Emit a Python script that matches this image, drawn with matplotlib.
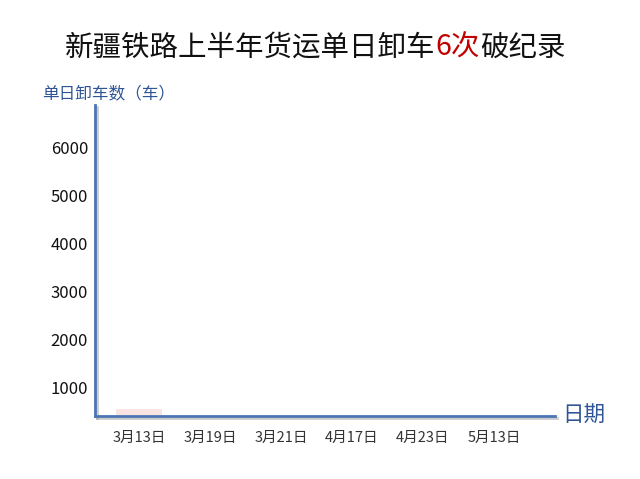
import matplotlib
matplotlib.use("Agg")
from matplotlib import pyplot as plt
import matplotlib.patheffects as pe

plt.rcParams['font.family'] = ['Noto Sans CJK SC', 'DejaVu Sans']

# 数据（动画帧：只有第一根柱子刚开始出现）
dates = ["3月13日", "3月19日", "3月21日", "4月17日", "4月23日", "5月13日"]
unload = [550, 0, 0, 0, 0, 0]
yticks = [1000, 2000, 3000, 4000, 5000, 6000]

title_parts = ["新疆铁路上半年货运单日卸车", "6次", "破纪录"]
title_colors = ["#111111", "#c00000", "#111111"]

axis_blue = "#4a76b4"
text_blue = "#2f5597"

fig = plt.figure(figsize=(6.4, 4.79), dpi=100)
ax = fig.add_axes([95/640, 63/479, 460/640, 311/479])

x = list(range(len(dates)))
ax.bar(x, unload, width=0.66, color="#f4c8c8", alpha=0.5)

ax.set_xlim(-0.62, 5.86)
ax.set_ylim(400, 6875)

for s in ["top", "right"]:
    ax.spines[s].set_visible(False)
shadow = [pe.SimpleLineShadow(offset=(1.5, -1.5), shadow_color="#999999", alpha=0.5), pe.Normal()]
for s in ["left", "bottom"]:
    ax.spines[s].set_color(axis_blue)
    ax.spines[s].set_linewidth(2.0)
    ax.spines[s].set_path_effects(shadow)

ax.set_xticks(x)
ax.set_xticklabels(dates, fontsize=10.5, color="#333333")
ax.set_yticks(yticks)
ax.set_yticklabels([str(v) for v in yticks], fontsize=12, color="#111111")
ax.tick_params(length=0)
ax.tick_params(axis="x", pad=11)
ax.tick_params(axis="y", pad=5)

fig.text(42/640, 1 - 94/479, "单日卸车数（车）", fontsize=12, color=text_blue,
         ha="left", va="center")
fig.text(562/640, 1 - 416/479, "日期", fontsize=15.5, color=text_blue,
         ha="left", va="center")

# 标题，分段上色
fig.canvas.draw()
r = fig.canvas.get_renderer()
xpos = 65
for part, col in zip(title_parts, title_colors):
    t = fig.text(xpos/640, 1 - 48/479, part, fontsize=20.5, color=col,
                 ha="left", va="center")
    xpos += t.get_window_extent(renderer=r).width

fig.savefig("out.png", dpi=100)
